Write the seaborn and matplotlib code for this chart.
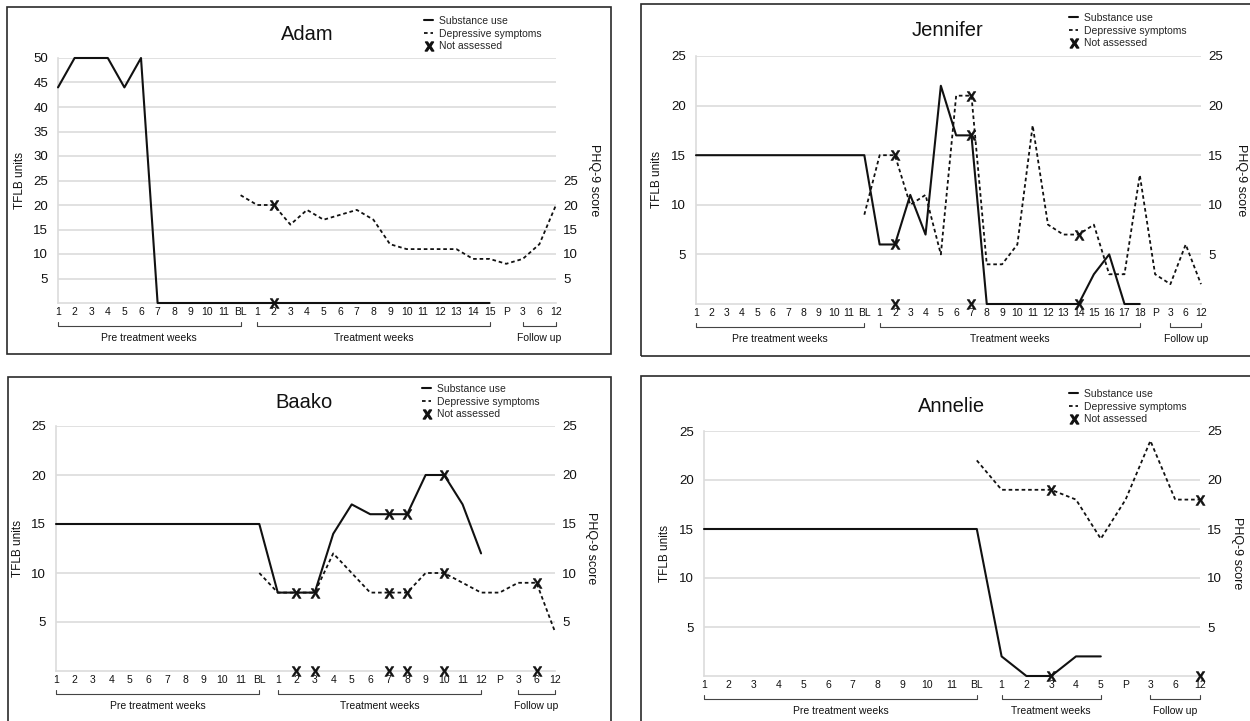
import matplotlib
matplotlib.use("Agg")
import matplotlib.pyplot as plt
from matplotlib.lines import Line2D
from matplotlib.patches import Rectangle
import numpy as np
import pandas as pd
import seaborn as sns

# ---------------- data ----------------
pre_weeks = ["1", "2", "3", "4", "5", "6", "7", "8", "9", "10", "11"]
follow_up = ["3", "6", "12"]

adam_treatment_weeks = 15
adam_substance = [44, 50, 50, 50, 44, 50, 0, 0, 0, 0, 0,          # pre 1-11
                  0,                                             # BL
                  0, 0, 0, 0, 0, 0, 0, 0, 0, 0, 0, 0, 0, 0, 0]   # T1-T15
adam_depression = [22,                                           # BL
                   20, 20, 16, 19, 17, 18, 19, 17, 12, 11, 11, 11, 11, 9, 9,  # T1-T15
                   8,                                            # P
                   9, 12, 20]                                    # FU 3, 6, 12
adam_na_weeks = ["T2", "T2"]
adam_na_values = [20, 0]

jennifer_treatment_weeks = 18
jennifer_substance = [15, 15, 15, 15, 15, 15, 15, 15, 15, 15, 15,
                      15,
                      6, 6, 11, 7, 22, 17, 17, 0, 0, 0, 0, 0, 0, 0, 3, 5, 0, 0]
jennifer_depression = [9,
                       15, 15, 10, 11, 5, 21, 21, 4, 4, 6, 18, 8, 7, 7, 8, 3, 3, 13,
                       3,
                       2, 6, 2]
jennifer_na_weeks = ["T2", "T2", "T2", "T7", "T7", "T7", "T14", "T14"]
jennifer_na_values = [15, 6, 0, 21, 17, 0, 7, 0]

baako_treatment_weeks = 12
baako_substance = [15, 15, 15, 15, 15, 15, 15, 15, 15, 15, 15,
                   15,
                   8, 8, 8, 14, 17, 16, 16, 16, 20, 20, 17, 12]
baako_depression = [10,
                    8, 8, 8, 12, 10, 8, 8, 8, 10, 10, 9, 8,
                    8,
                    9, 9, 4]
baako_na_weeks = ["T2", "T3", "T7", "T8", "T7", "T8", "T10", "T10", "F6",
                  "T2", "T3", "T7", "T8", "T10", "F6"]
baako_na_values = [8, 8, 16, 16, 8, 8, 20, 10, 9,
                   0, 0, 0, 0, 0, 0]

annelie_treatment_weeks = 5
annelie_substance = [15, 15, 15, 15, 15, 15, 15, 15, 15, 15, 15,
                     15,
                     2, 0, 0, 2, 2]
annelie_depression = [22,
                      19, 19, 19, 18, 14,
                      18,
                      24, 18, 18]
annelie_na_weeks = ["T3", "T3", "F12", "F12"]
annelie_na_values = [19, 0, 18, 0]

legend_labels = ["Substance use", "Depressive symptoms", "Not assessed"]
group_labels = ["Pre treatment weeks", "Treatment weeks", "Follow up"]

# ---------------- style ----------------
W, H = 1250, 721
sns.set_theme(style="white")
plt.rcParams["font.family"] = ["Liberation Sans", "DejaVu Sans"]
plt.rcParams["mathtext.fontset"] = "custom"
plt.rcParams["mathtext.bf"] = "Liberation Sans:bold"
plt.rcParams["mathtext.rm"] = "Liberation Sans"

INK = "#111111"
GRID = "#dcdcdc"
XMARK = r"$\mathbf{X}$"
DASH = (0, (2.0, 1.6))

fig = plt.figure(figsize=(W / 100, H / 100), dpi=100)


def px_rect(x0, y0, x1, y1):
    return [x0 / W, 1 - y1 / H, (x1 - x0) / W, (y1 - y0) / H]


def categories(n_treat):
    keys = ([f"Pre{w}" for w in pre_weeks] + ["BL"]
            + [f"T{i}" for i in range(1, n_treat + 1)] + ["P"]
            + [f"F{w}" for w in follow_up])
    labels = (pre_weeks + ["BL"] + [str(i) for i in range(1, n_treat + 1)]
              + ["P"] + follow_up)
    return keys, labels


def draw_panel(p):
    keys, labels = categories(p["n_treat"])
    pos = {k: i for i, k in enumerate(keys)}
    n = len(keys)
    x0, y0, x1, y1 = p["axes"]
    hpx = y1 - y0

    # frame around panel
    bx0, by0, bx1, by1 = p["box"]
    fig.add_artist(Rectangle((bx0 / W, 1 - by1 / H), (bx1 - bx0) / W, (by1 - by0) / H,
                             transform=fig.transFigure, fill=False,
                             edgecolor="#2a2a2a", linewidth=1.2))

    ax = fig.add_axes(px_rect(x0, y0, x1, y1))
    bl = pos["BL"]
    sub_df = pd.DataFrame({"pos": np.arange(len(p["substance"])),
                           "value": p["substance"]})
    dep_df = pd.DataFrame({"pos": bl + np.arange(len(p["depression"])),
                           "value": p["depression"]})
    na_df = pd.DataFrame({"pos": [pos[k] for k in p["na_weeks"]],
                          "value": p["na_values"]})

    sns.lineplot(data=sub_df, x="pos", y="value", ax=ax, color=INK,
                 linewidth=1.5, estimator=None, clip_on=False, zorder=3)
    sns.lineplot(data=dep_df, x="pos", y="value", ax=ax, color=INK,
                 linewidth=1.3, linestyle=DASH, estimator=None,
                 clip_on=False, zorder=3)
    sns.scatterplot(data=na_df, x="pos", y="value", ax=ax, marker=XMARK,
                    s=50, color=INK, edgecolor=INK, linewidth=0.4,
                    clip_on=False, zorder=4)

    ymax = p["ymax"]
    ax.set_xlim(0, n - 1)
    ax.set_ylim(0, ymax)
    ax.set_xticks(range(n))
    ax.set_xticklabels(labels)
    ax.set_yticks(list(range(5, ymax + 1, 5)))
    ax.set_xlabel("")
    ax.set_ylabel("")
    ax.set_facecolor("none")
    ax.grid(axis="y", color=GRID, linewidth=1.2)
    ax.grid(axis="x", visible=False)
    ax.set_axisbelow(True)
    for side in ("top", "right"):
        ax.spines[side].set_visible(False)
    for side in ("left", "bottom"):
        ax.spines[side].set_color(GRID)
        ax.spines[side].set_linewidth(1.2)
    ax.tick_params(axis="y", length=0, pad=7, labelsize=9.5, labelcolor=INK)
    ax.tick_params(axis="x", length=0, pad=3, labelsize=7.5, labelcolor=INK)

    ax2 = ax.twinx()
    ax2.set_ylim(0, ymax)
    ax2.set_yticks([5, 10, 15, 20, 25])
    ax2.grid(False)
    for s in ax2.spines.values():
        s.set_visible(False)
    ax2.tick_params(axis="y", length=0, pad=5, labelsize=9.5, labelcolor=INK)

    # brackets below the x axis
    trans = ax.get_xaxis_transform()
    groups = [(0, bl), (bl + 1, bl + p["n_treat"]), (pos["F3"], pos["F12"])]
    for (s, e), lab in zip(groups, group_labels):
        ax.plot([s, s, e, e], [-19 / hpx, -23 / hpx, -23 / hpx, -19 / hpx],
                transform=trans, clip_on=False, color="#444444", linewidth=0.8)
        ax.text((s + e) / 2, -35 / hpx, lab, transform=trans, ha="center",
                va="center", fontsize=7.5, color=INK)

    # title, axis labels
    tx, ty = p["title_xy"]
    fig.text(tx / W, 1 - ty / H, p["name"], ha="center", va="center",
             fontsize=14.5, color=INK)
    ymid = (y0 + y1) / 2
    fig.text(p["tflb_x"] / W, 1 - ymid / H, "TFLB units", rotation=90,
             ha="center", va="center", fontsize=8.5, color=INK)
    fig.text(p["phq_x"] / W, 1 - ymid / H, "PHQ-9 score", rotation=-90,
             ha="center", va="center", fontsize=9, color=INK)

    # legend
    handles = [Line2D([], [], color=INK, linewidth=1.5),
               Line2D([], [], color=INK, linewidth=1.3, linestyle=DASH),
               Line2D([], [], color=INK, marker=XMARK, linestyle="None",
                      markersize=6.5)]
    lx, ly = p["legend_xy"]
    ax2.legend(handles, legend_labels, loc="upper left",
               bbox_to_anchor=(lx / W, 1 - ly / H), bbox_transform=fig.transFigure,
               frameon=False, fontsize=7.5, handlelength=0.9, handletextpad=0.5,
               labelspacing=0.25, borderpad=0, borderaxespad=0)


panels = [
    dict(name="Adam", n_treat=adam_treatment_weeks, substance=adam_substance,
         depression=adam_depression, na_weeks=adam_na_weeks, na_values=adam_na_values,
         ymax=50, axes=(58, 58, 556, 303), box=(7, 7, 611, 354),
         title_xy=(307, 35), legend_xy=(424, 16), tflb_x=20, phq_x=594),
    dict(name="Jennifer", n_treat=jennifer_treatment_weeks, substance=jennifer_substance,
         depression=jennifer_depression, na_weeks=jennifer_na_weeks,
         na_values=jennifer_na_values,
         ymax=25, axes=(696, 56, 1201, 304), box=(641, 4, 1253, 356),
         title_xy=(948, 31), legend_xy=(1069, 13), tflb_x=657, phq_x=1241),
    dict(name="Baako", n_treat=baako_treatment_weeks, substance=baako_substance,
         depression=baako_depression, na_weeks=baako_na_weeks, na_values=baako_na_values,
         ymax=25, axes=(56, 426, 555, 671), box=(8, 377, 611, 724),
         title_xy=(304, 403), legend_xy=(422, 384), tflb_x=18, phq_x=591),
    dict(name="Annelie", n_treat=annelie_treatment_weeks, substance=annelie_substance,
         depression=annelie_depression, na_weeks=annelie_na_weeks,
         na_values=annelie_na_values,
         ymax=25, axes=(704, 431, 1200, 676), box=(641, 376, 1253, 724),
         title_xy=(952, 407), legend_xy=(1069, 389), tflb_x=665, phq_x=1237),
]

for p in panels:
    draw_panel(p)

fig.savefig("out.png", dpi=100, facecolor="white")
